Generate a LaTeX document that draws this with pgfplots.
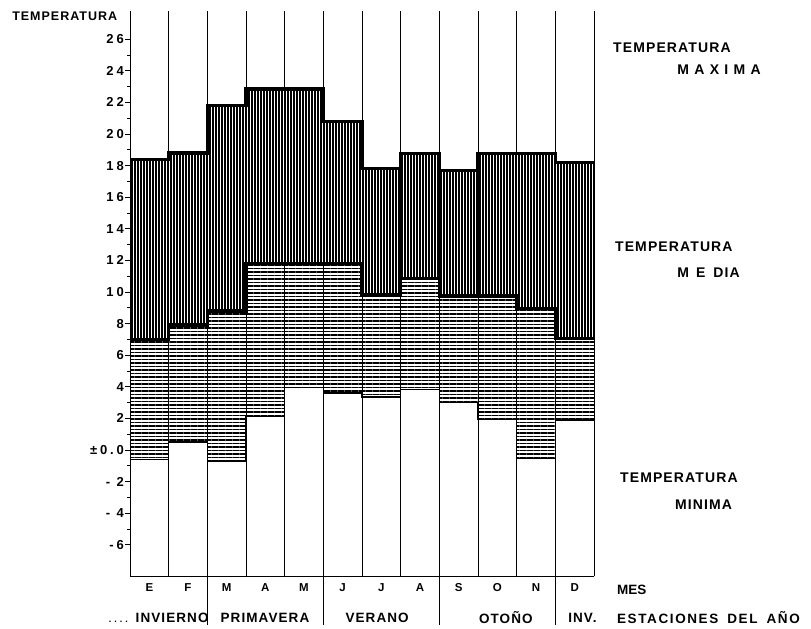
\documentclass[border=0pt]{standalone}
\usepackage{fontspec}
\setmainfont{Liberation Sans}
\newfontfamily\spf[LetterSpace=8]{Liberation Sans}
\newfontfamily\spfb[LetterSpace=12]{Liberation Sans}
\newfontfamily\spfc[LetterSpace=38]{Liberation Sans}
\newfontfamily\tkf[LetterSpace=22]{Liberation Sans}
\usepackage{pgfplots}
\pgfplotsset{compat=1.18}
\usepgfplotslibrary{fillbetween}
\usetikzlibrary{patterns.meta}

\pgfplotstableread{
x   max    mean   min
0   18.4   7.0   -0.6
1   18.8   7.9    0.5
2   21.8   8.8   -0.7
3   22.85  11.8   2.1
4   22.85  11.8   3.95
5   20.8   11.8   3.6
6   17.8   9.8    3.35
7   18.75  10.85  3.85
8   17.7   9.75   3.0
9   18.75  9.75   1.95
10  18.75  8.95  -0.55
11  18.2   7.05   1.9
12  18.2   7.05   1.9
}\tempdata

\begin{document}
\begin{tikzpicture}
\begin{axis}[
  x=38.67pt, y=15.8pt,
  xmin=0, xmax=12, ymin=-8, ymax=27.8,
  axis x line=bottom, axis y line=left,
  axis line style={-, line width=0.9pt, black},
  xtick={0,...,12},
  x tick label as interval,
  xticklabels={E,F,M,A,M,J,J,A,S,O,N,D},
  xmajorgrids,
  major grid style={black, line width=0.6pt},
  xtick style={draw=none},
  ytick={-6,-4,...,26},
  yticklabels={-6,- 4,- 2,±0.0,2,4,6,8,10,12,14,16,18,20,22,24,26},
  minor y tick num=1,
  tick align=outside,
  major tick length=5pt, minor tick length=3pt,
  ytick style={black, line width=0.7pt},
  /pgf/number format/assume math mode=true,
  yticklabel style={font=\tkf\fontsize{13}{13}\selectfont\bfseries, inner sep=1pt},
  xticklabel style={font=\fontsize{11.5}{11.5}\selectfont\bfseries, inner sep=2pt},
  axis on top,
  clip=false,
]
\addplot[name path=pmax, const plot, black, line width=3.5pt] table[x=x,y=max]{\tempdata};
\addplot[name path=pmean, const plot, black, line width=3.5pt] table[x=x,y=mean]{\tempdata};
\addplot[name path=pmin, const plot, black, line width=1.2pt] table[x=x,y=min]{\tempdata};
\addplot[draw=none, pattern={Lines[angle=90,distance=3pt,line width=2.1pt]}] fill between[of=pmax and pmean];
\addplot[draw=none, pattern={Lines[angle=0,distance=3.5pt,line width=1.7pt]}] fill between[of=pmean and pmin];

% season dividers below the axis
\draw[line width=0.8pt] (axis cs:2,-8) -- (axis cs:2,-11.08);
\draw[line width=0.8pt] (axis cs:5,-8) -- (axis cs:5,-11.08);
\draw[line width=0.8pt] (axis cs:8,-8) -- (axis cs:8,-11.08);
\draw[line width=0.8pt] (axis cs:11,-8) -- (axis cs:11,-11.08);

% season labels
\node[inner sep=0, font=\spf\fontsize{13.5}{13.5}\selectfont\bfseries] at (axis cs:1.09,-10.63) {INVIERNO};
\node[inner sep=0, font=\spf\fontsize{13.5}{13.5}\selectfont\bfseries] at (axis cs:3.49,-10.63) {PRIMAVERA};
\node[inner sep=0, font=\spf\fontsize{13.5}{13.5}\selectfont\bfseries] at (axis cs:6.39,-10.63) {VERANO};
\node[inner sep=0, font=\spf\fontsize{13.5}{13.5}\selectfont\bfseries] at (axis cs:9.72,-10.63) {OTOÑO};
\node[inner sep=0, anchor=west, font=\spf\fontsize{13.5}{13.5}\selectfont\bfseries] at (axis cs:11.33,-10.63) {INV.};
\node[inner sep=0, anchor=west, font=\spfb\fontsize{13.5}{13.5}\selectfont\bfseries] at (axis cs:12.59,-10.63) {ESTACIONES\hspace{9pt}DEL\hspace{9pt}AÑO};
\node[inner sep=0, anchor=west, font=\fontsize{13.5}{13.5}\selectfont\bfseries] at (axis cs:12.59,-8.86) {MES};
\node[inner sep=0, anchor=east, font=\fontsize{9}{9}\selectfont\bfseries] at (axis cs:-0.05,-10.85) {.\,\,.\,\,.\,\,.};

% top-left label
\node[inner sep=0, anchor=west, font=\spf\fontsize{12.5}{12.5}\selectfont\bfseries] at (axis cs:-3.05,27.47) {TEMPERATURA};

% right labels
\node[inner sep=0, anchor=west, font=\spf\fontsize{14}{14}\selectfont\bfseries] at (axis cs:12.49,25.44) {TEMPERATURA};
\node[inner sep=0, anchor=west, font=\spfc\fontsize{14}{14}\selectfont\bfseries] at (axis cs:14.15,24.05) {MAXIMA};
\node[inner sep=0, anchor=west, font=\spf\fontsize{14}{14}\selectfont\bfseries] at (axis cs:12.54,12.85) {TEMPERATURA};
\node[inner sep=0, anchor=west, font=\spf\fontsize{14}{14}\selectfont\bfseries] at (axis cs:14.15,11.2) {M\kern7pt E\kern8pt DIA};
\node[inner sep=0, anchor=west, font=\spf\fontsize{14}{14}\selectfont\bfseries] at (axis cs:12.67,-1.77) {TEMPERATURA};
\node[inner sep=0, anchor=west, font=\spf\fontsize{14}{14}\selectfont\bfseries] at (axis cs:14.09,-3.48) {MINIMA};

\coordinate (BL) at (axis cs:-3.362,-11.33);
\coordinate (TR) at (axis cs:17.611,28.48);
\end{axis}
\path[use as bounding box] (BL) rectangle (TR);
\end{tikzpicture}
\end{document}
